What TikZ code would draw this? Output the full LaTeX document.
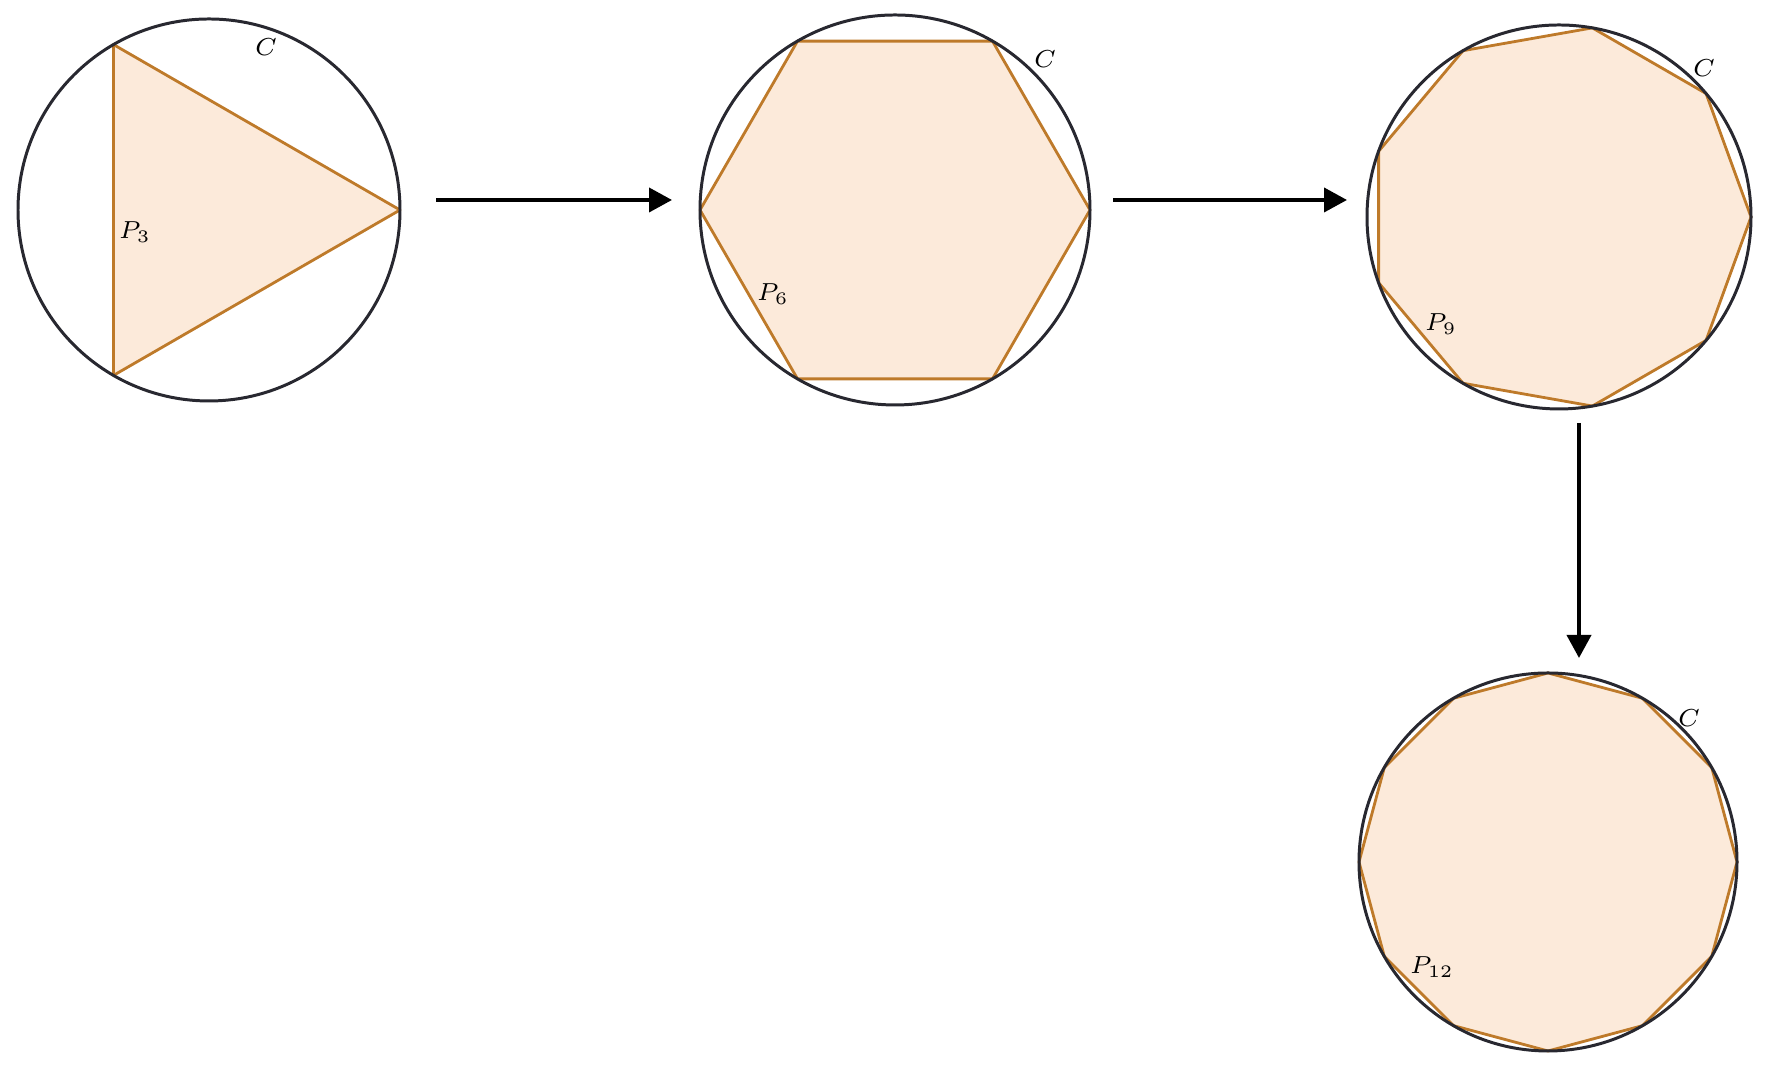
\documentclass[tikz,border=0pt]{standalone}
\usepackage{amsmath}
\usepackage{tikz}
\usetikzlibrary{calc,arrows.meta}
\usepackage{xcolor}
\definecolor{polyline}{RGB}{190,122,42}
\definecolor{polyfill}{RGB}{252,234,218}
\definecolor{ringline}{RGB}{40,40,48}

\begin{document}
\begin{tikzpicture}
  \useasboundingbox (0,0) rectangle (17.75,10.72);
  \tikzset{
    poly/.style={draw=polyline, fill=polyfill, line width=0.8pt, line join=round},
    ring/.style={draw=ringline, line width=0.85pt},
    tag/.style={inner sep=0pt, font=\scriptsize},
    flow/.style={line width=1.1pt, -{Triangle[length=0.23cm,width=0.24cm]}}
  }
  % circles with inscribed polygons
  \foreach \n/\x/\y/\r in {3/2.09/8.62/1.91, 6/8.95/8.62/1.95, 9/15.59/8.55/1.92, 12/15.48/2.10/1.89}{
    \coordinate (c\n) at (\x,\y);
    \pgfmathtruncatemacro{\m}{\n-1}
    \begin{scope}[shift={(c\n)}]
      \draw[poly] (0:\r) \foreach \k in {1,...,\m}{ -- ({360*\k/\n}:\r) } -- cycle;
      \draw[ring] (0,0) circle (\r);
    \end{scope}
  }
  % labels
  \foreach \n/\cx/\cy/\px/\py in {3/2.66/10.25/1.35/8.40, 6/10.45/10.13/7.73/7.78,
                                  9/17.04/10.04/14.41/7.48, 12/16.89/3.54/14.32/1.05}{
    \node[tag] (C\n) at (\cx,\cy) {$C$};
    \node[tag] (P\n) at (\px,\py) {$P_{\n}$};
  }
  % arrows
  \coordinate (aS) at (4.36,8.72);
  \coordinate (aE) at (6.72,8.72);
  \coordinate (bS) at (11.13,8.72);
  \coordinate (bE) at (13.47,8.72);
  \coordinate (dS) at (15.79,6.49);
  \coordinate (dE) at (15.79,4.14);
  \draw[flow] (aS) -- (aE);
  \draw[flow] (bS) -- (bE);
  \draw[flow] (dS) -- (dE);
\end{tikzpicture}
\end{document}
